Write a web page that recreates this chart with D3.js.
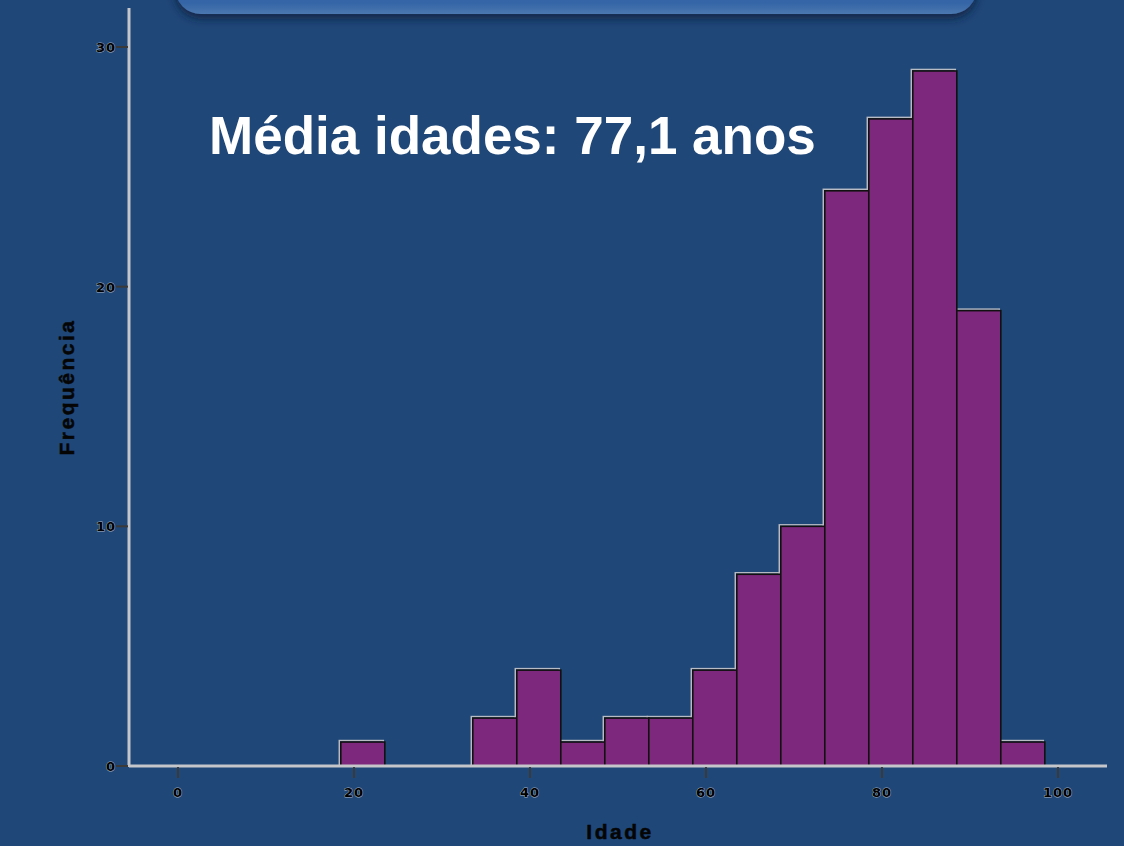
<!DOCTYPE html>
<html><head><meta charset="utf-8">
<script src="https://cdn.jsdelivr.net/npm/d3@7"></script>
<style>
html,body{margin:0;padding:0;background:#1f4778;}
svg{display:block;}
</style></head>
<body>
<svg id="chart" width="1124" height="846"></svg>
<script>
// Data: histogram bins (Idade), width 5 years
const binStarts = [18.5, 33.5, 38.5, 43.5, 48.5, 53.5, 58.5, 63.5, 68.5, 73.5, 78.5, 83.5, 88.5, 93.5];
const binWidth = 5;
const frequencies = [1, 2, 4, 1, 2, 2, 4, 8, 10, 24, 27, 29, 19, 1];
const xTicks = [0, 20, 40, 60, 80, 100];
const yTicks = [0, 10, 20, 30];
const annotation = "Média idades: 77,1 anos";
const xLabel = "Idade";
const yLabel = "Frequência";

const svg = d3.select("#chart");
const W = 1124, H = 846;

// background
svg.append("rect").attr("width", W).attr("height", H).attr("fill", "#1f4778");

// top banner (cut off)
const defs = svg.append("defs");
const f = defs.append("filter").attr("id", "sh").attr("x", "-10%").attr("y", "-50%").attr("width", "120%").attr("height", "250%");
f.append("feDropShadow").attr("dx", 0).attr("dy", 5).attr("stdDeviation", 4).attr("flood-color", "#0d2340").attr("flood-opacity", 0.8);
const bg = defs.append("linearGradient").attr("id", "bg").attr("x1", 0).attr("y1", 0).attr("x2", 0).attr("y2", 1);
bg.append("stop").attr("offset", "0").attr("stop-color", "#3a6db0");
bg.append("stop").attr("offset", "0.85").attr("stop-color", "#3465a6");
bg.append("stop").attr("offset", "1").attr("stop-color", "#4c77b0");
svg.append("rect").attr("x", 175).attr("y", -60).attr("width", 802).attr("height", 74)
  .attr("rx", 26).attr("fill", "url(#bg)").attr("filter", "url(#sh)");

const x = d3.scaleLinear().domain([0, 100]).range([178, 1058]);
const y = d3.scaleLinear().domain([0, 30]).range([766, 47]);

// bars
const bars = binStarts.map((s, i) => ({x0: s, x1: s + binWidth, n: frequencies[i]}));
const g = svg.append("g");
// light offset edge (3D effect)
g.selectAll("rect.hl").data(bars).join("rect").attr("class", "hl")
  .attr("x", d => x(d.x0) - 1.5).attr("y", d => y(d.n) - 1.5)
  .attr("width", d => x(d.x1) - x(d.x0)).attr("height", d => y(0) - y(d.n))
  .attr("fill", "none").attr("stroke", "#b8bcc4").attr("stroke-width", 1.5);
g.selectAll("rect.bar").data(bars).join("rect").attr("class", "bar")
  .attr("x", d => x(d.x0)).attr("y", d => y(d.n))
  .attr("width", d => x(d.x1) - x(d.x0)).attr("height", d => y(0) - y(d.n))
  .attr("fill", "#7d287d").attr("stroke", "#111").attr("stroke-width", 1.6);

// axes lines
const axisLeft = 129, axisRight = 1107, axisTop = 8;
svg.append("line").attr("x1", axisLeft).attr("x2", axisLeft).attr("y1", axisTop).attr("y2", y(0) + 1)
  .attr("stroke", "#c4c6ca").attr("stroke-width", 3);
svg.append("line").attr("x1", axisLeft).attr("x2", axisRight).attr("y1", y(0)).attr("y2", y(0))
  .attr("stroke", "#c4c6ca").attr("stroke-width", 3);

// x ticks
const xt = svg.append("g");
xt.selectAll("line").data(xTicks).join("line")
  .attr("x1", d => x(d)).attr("x2", d => x(d)).attr("y1", y(0) + 1).attr("y2", y(0) + 12)
  .attr("stroke", "#3a3a3a").attr("stroke-width", 2);
xt.selectAll("text").data(xTicks).join("text")
  .attr("x", d => x(d)).attr("y", 797).attr("text-anchor", "middle")
  .attr("font-family", "DejaVu Sans, sans-serif").attr("font-size", 13).attr("font-weight", "bold")
  .attr("fill", "#000").attr("stroke", "#aab2c0").attr("stroke-width", 0.9)
  .attr("paint-order", "stroke").attr("letter-spacing", 1)
  .text(d => d);

// y ticks
const yt = svg.append("g");
yt.selectAll("line").data(yTicks).join("line")
  .attr("x1", axisLeft - 13).attr("x2", axisLeft - 1).attr("y1", d => y(d)).attr("y2", d => y(d))
  .attr("stroke", "#3a3a3a").attr("stroke-width", 2);
yt.selectAll("text").data(yTicks).join("text")
  .attr("x", axisLeft - 13).attr("y", d => y(d) + 5).attr("text-anchor", "end")
  .attr("font-family", "DejaVu Sans, sans-serif").attr("font-size", 13).attr("font-weight", "bold")
  .attr("fill", "#000").attr("stroke", "#aab2c0").attr("stroke-width", 0.9)
  .attr("paint-order", "stroke").attr("letter-spacing", 1)
  .text(d => d);

// axis titles
svg.append("text").attr("x", 620).attr("y", 839).attr("text-anchor", "middle")
  .attr("font-family", "Liberation Sans, Arial, sans-serif").attr("font-weight", "bold")
  .attr("font-size", 21).attr("letter-spacing", 2.5).attr("fill", "#050505")
  .attr("stroke", "#050505").attr("stroke-width", 0.5).text(xLabel);
svg.append("text").attr("transform", "translate(74,387) rotate(-90)").attr("text-anchor", "middle")
  .attr("font-family", "Liberation Sans, Arial, sans-serif").attr("font-weight", "bold")
  .attr("font-size", 21).attr("letter-spacing", 2.5).attr("fill", "#050505")
  .attr("stroke", "#050505").attr("stroke-width", 0.5).text(yLabel);

// annotation
svg.append("text").attr("x", 209).attr("y", 154)
  .attr("font-family", "Liberation Sans, Arial, sans-serif").attr("font-weight", "bold")
  .attr("font-size", 53).attr("fill", "#ffffff").text(annotation);
</script>
</body></html>
